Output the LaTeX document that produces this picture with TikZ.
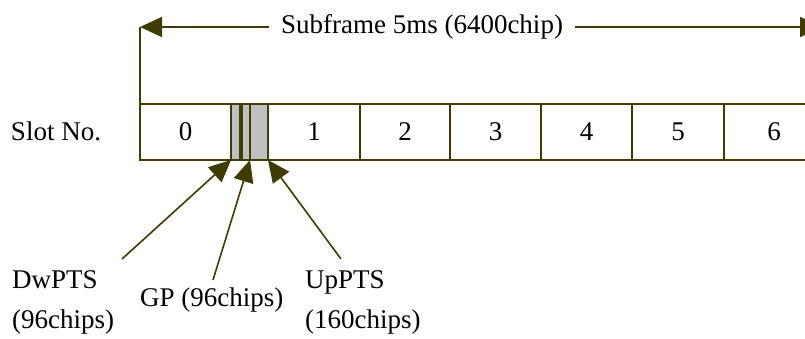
\documentclass[tikz,border=0pt]{standalone}
\usepackage{fontspec}
\setmainfont{Liberation Serif}
\usetikzlibrary{arrows.meta}
\definecolor{ol}{RGB}{62,60,0}
\definecolor{gfill}{RGB}{192,192,192}
\begin{document}
\begin{tikzpicture}[x=1pt,y=-1pt,
  every node/.style={font=\fontsize{27}{40}\selectfont},
  cell/.style={draw=ol,line width=2pt,minimum height=56pt,inner sep=0pt,outer sep=0pt},
  graycell/.style={cell,fill=gfill},
  arr/.style={draw=ol,line width=1.6pt,-{Triangle[length=22pt,width=20pt]},color=ol},
  lbl/.style={align=left,inner sep=0pt,anchor=west}]
\useasboundingbox (0,0) rectangle (805,338);
\clip (0,0) rectangle (805,338);
% cells
\node[cell,minimum width=91pt] (c0) at (185.5,132) {0};
\node[graycell,minimum width=9pt] (dw) at (235.5,132) {};
\node[graycell,minimum width=8pt] (gp) at (246,132) {};
\node[graycell,minimum width=18pt] (up) at (259,132) {};
\node[cell,minimum width=92pt] (c1) at (314,132) {1};
\node[cell,minimum width=90pt] (c2) at (405,132) {2};
\node[cell,minimum width=91pt] (c3) at (495.5,132) {3};
\node[cell,minimum width=91pt] (c4) at (586.5,132) {4};
\node[cell,minimum width=92pt] (c5) at (678,132) {5};
\node[cell,minimum width=100pt] (c6) at (774,132) {6};
% slot label
\node (slot) at (56,131) {Slot No.};
% subframe
\node[inner xsep=12pt] (sub) at (422,27) {Subframe 5ms (6400chip)};
\coordinate (lend) at (140,27);
\coordinate (rend) at (822,27);
\draw[draw=ol,line width=1.6pt] (c0.north west) -- (lend);
\draw[arr] (sub.west) -- (lend);
\draw[arr] (sub.east) -- (rend);
% labels
\node[lbl] (dwl) at (12,302) {DwPTS\\(96chips)};
\node[lbl] (gpl) at (140,300) {GP (96chips)};
\node[lbl] (upl) at (305,302) {UpPTS\\(160chips)};
\coordinate (dws) at (122,259);
\coordinate (gps) at (213,280);
\coordinate (ups) at (341,259);
\draw[arr] (dws) -- (dw.south west);
\draw[arr] (gps) -- (gp.south east);
\draw[arr] (ups) -- (up.south east);
\end{tikzpicture}
\end{document}
